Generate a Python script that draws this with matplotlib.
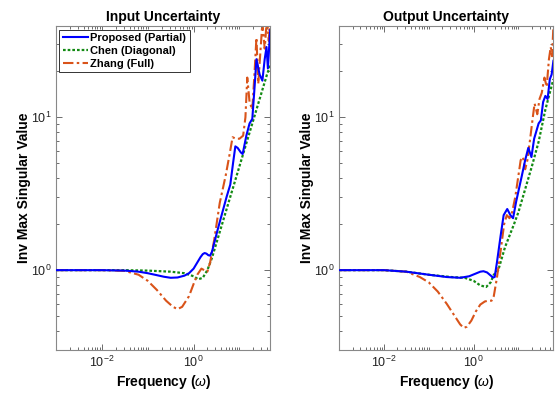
#!/usr/bin/env python3
import numpy as np
import matplotlib
matplotlib.use("Agg")
import matplotlib.pyplot as plt
from matplotlib.ticker import FixedLocator, LogLocator, NullFormatter

# значения (log10 частоты -> log10 значения)
IN_PROP_W = [-3.0, -2.0, -1.5, -1.2, -1.0, -0.8, -0.65, -0.5, -0.35, -0.2, -0.1, 0.0, 0.08, 0.15,
             0.20, 0.24, 0.28, 0.32, 0.36, 0.40, 0.46, 0.52, 0.62, 0.72, 0.80, 0.86, 0.91, 0.96,
             1.03, 1.07, 1.15, 1.22, 1.28, 1.33, 1.37, 1.44, 1.50, 1.55, 1.59, 1.62, 1.67]
IN_PROP_V = [0.0, 0.0, -0.003, -0.01, -0.02, -0.033, -0.043, -0.05, -0.048, -0.036, -0.02, 0.01, 0.05, 0.085,
             0.105, 0.112, 0.108, 0.098, 0.095, 0.12, 0.19, 0.26, 0.37, 0.48, 0.56, 0.70, 0.81, 0.80,
             0.77, 0.76, 0.88, 0.96, 0.99, 1.20, 1.38, 1.28, 1.24, 1.38, 1.46, 1.32, 1.57]

IN_CHEN_W = [-3.0, -1.5, -1.0, -0.5, -0.2, 0.0, 0.1, 0.2, 0.3, 0.4, 0.5, 0.6, 0.7, 0.8, 0.9,
             1.0, 1.1, 1.2, 1.3, 1.4, 1.5, 1.6, 1.67]
IN_CHEN_V = [0.0, 0.0, -0.003, -0.01, -0.02, -0.04, -0.06, -0.05, 0.0, 0.08, 0.18, 0.28, 0.38, 0.48, 0.58,
             0.68, 0.78, 0.88, 0.98, 1.08, 1.18, 1.28, 1.34]

IN_ZHANG_W = [-3.0, -2.0, -1.5, -1.2, -1.0, -0.8, -0.6, -0.45, -0.35, -0.25, -0.1, 0.0, 0.08, 0.17,
              0.23, 0.30, 0.36, 0.45, 0.57, 0.70, 0.78, 0.85, 0.92, 1.0, 1.08, 1.13, 1.17, 1.22,
              1.28, 1.33, 1.37, 1.41, 1.45, 1.50, 1.55, 1.60, 1.64, 1.67]
IN_ZHANG_V = [0.0, 0.0, -0.005, -0.03, -0.07, -0.13, -0.2, -0.24, -0.255, -0.24, -0.17, -0.09, -0.03, 0.01,
              0.0, -0.01, 0.05, 0.2, 0.44, 0.62, 0.75, 0.87, 0.86, 0.86, 0.88, 1.0, 1.26, 1.1,
              1.05, 1.3, 1.52, 1.22, 1.4, 1.62, 1.45, 1.65, 1.5, 1.7]

OUT_PROP_W = [-3.0, -2.0, -1.5, -1.0, -0.6, -0.3, -0.1, 0.05, 0.15, 0.22, 0.3, 0.38, 0.43, 0.47,
              0.52, 0.6, 0.67, 0.75, 0.82, 0.88, 0.95, 1.07, 1.15, 1.22, 1.29, 1.35, 1.40, 1.45,
              1.50, 1.55, 1.60, 1.65, 1.70, 1.74, 1.78]
OUT_PROP_V = [0.0, 0.0, -0.01, -0.03, -0.045, -0.05, -0.04, -0.022, -0.01, -0.007, -0.015, -0.035, -0.048, -0.045,
              0.05, 0.22, 0.36, 0.40, 0.36, 0.34, 0.45, 0.61, 0.72, 0.80, 0.74, 0.86, 0.91, 0.96,
              0.98, 1.10, 1.14, 1.12, 1.25, 1.28, 1.37]

OUT_CHEN_W = [-3.0, -2.0, -1.5, -1.0, -0.5, -0.2, 0.0, 0.15, 0.28, 0.38, 0.45, 0.55, 0.7, 0.9,
              1.0, 1.1, 1.2, 1.3, 1.45, 1.6, 1.78]
OUT_CHEN_V = [0.0, 0.0, -0.01, -0.03, -0.045, -0.05, -0.07, -0.1, -0.11, -0.08, -0.03, 0.0, 0.15, 0.3,
              0.38, 0.48, 0.58, 0.68, 0.84, 1.05, 1.25]

OUT_ZHANG_W = [-3.0, -2.0, -1.5, -1.2, -1.0, -0.8, -0.6, -0.4, -0.3, -0.22, -0.15, -0.05, 0.05, 0.15,
               0.25, 0.32, 0.4, 0.45, 0.52, 0.6, 0.68, 0.74, 0.8, 0.86, 0.93, 1.0, 1.05, 1.1, 1.15,
               1.2, 1.27, 1.32, 1.36, 1.42, 1.47, 1.52, 1.58, 1.63, 1.68, 1.72, 1.75, 1.78]
OUT_ZHANG_V = [0.0, 0.0, -0.01, -0.045, -0.08, -0.14, -0.22, -0.31, -0.355, -0.378, -0.37, -0.33, -0.27, -0.225,
               -0.205, -0.2, -0.2, -0.17, -0.05, 0.12, 0.3, 0.36, 0.34, 0.38, 0.48, 0.62, 0.72, 0.74, 0.66,
               0.72, 0.88, 1.0, 1.09, 1.02, 1.12, 1.16, 1.26, 1.2, 1.38, 1.46, 1.4, 1.6]

TITLES = ["Input Uncertainty", "Output Uncertainty"]
LABELS = ["Proposed (Partial)", "Chen (Diagonal)", "Zhang (Full)"]
XLIMS = [(1e-3, 47), (1e-3, 60)]
YLIM = (0.3, 39.5)

BLUE = "#0000ff"
GREEN = "#138a13"
RED = "#d95319"
FONT = "Liberation Sans"


def draw(ax, data, title, xlim, legend=False):
    (pw, pv), (cw, cv), (zw, zv) = data
    ax.plot(10 ** np.array(pw), 10 ** np.array(pv), color=BLUE, lw=1.5, label=LABELS[0], zorder=3)
    ax.plot(10 ** np.array(cw), 10 ** np.array(cv), color=GREEN, lw=1.6, ls=(0, (1.2, 0.9)),
            label=LABELS[1], zorder=2)
    ax.plot(10 ** np.array(zw), 10 ** np.array(zv), color=RED, lw=1.5, ls=(0, (5, 1.6, 1.2, 1.6)),
            label=LABELS[2], zorder=2)
    ax.set_xscale("log")
    ax.set_yscale("log")
    ax.set_xlim(*xlim)
    ax.set_ylim(*YLIM)

    ax.xaxis.set_major_locator(FixedLocator([1e-2, 1e0]))
    ax.set_xticklabels([r"$10^{-2}$", r"$10^{0}$"])
    ax.xaxis.set_minor_locator(LogLocator(base=10, subs=np.arange(1, 10), numticks=30))
    ax.xaxis.set_minor_formatter(NullFormatter())
    ax.yaxis.set_major_locator(FixedLocator([1e0, 1e1]))
    ax.set_yticklabels([r"$10^{0}$", r"$10^{1}$"])
    ax.yaxis.set_minor_locator(LogLocator(base=10, subs=np.arange(2, 10), numticks=30))
    ax.yaxis.set_minor_formatter(NullFormatter())

    ax.tick_params(which="both", direction="in", top=True, right=True, colors="#555555",
                   labelcolor="#222222", labelsize=9, width=0.6)
    ax.tick_params(which="major", length=4)
    ax.tick_params(which="minor", length=2)
    for s in ax.spines.values():
        s.set_color("#888888")
        s.set_linewidth(0.8)

    ax.set_title(title, fontsize=10, fontweight="bold", family=FONT, pad=4)
    ax.set_xlabel(r"Frequency ($\omega$)", fontsize=10, fontweight="bold", family=FONT, labelpad=2)
    ax.set_ylabel("Inv Max Singular Value", fontsize=10, fontweight="bold", family=FONT, labelpad=0)

    if legend:
        leg = ax.legend(loc="upper left", bbox_to_anchor=(0.005, 0.995), fancybox=False,
                        edgecolor="#333333", framealpha=1, handlelength=2.3, handletextpad=0.2,
                        borderpad=0.3, labelspacing=0.25, borderaxespad=0.2,
                        prop={"family": FONT, "weight": "bold", "size": 8})
        leg.get_frame().set_linewidth(0.7)


def main():
    plt.rcParams["mathtext.fontset"] = "custom"
    plt.rcParams["mathtext.rm"] = FONT
    plt.rcParams["mathtext.it"] = FONT + ":italic"
    plt.rcParams["font.family"] = FONT

    fig = plt.figure(figsize=(5.55, 3.96), dpi=100)
    ax1 = fig.add_axes([0.101, 0.116, 0.386, 0.818])
    ax2 = fig.add_axes([0.611, 0.116, 0.386, 0.818])

    draw(ax1, [(IN_PROP_W, IN_PROP_V), (IN_CHEN_W, IN_CHEN_V), (IN_ZHANG_W, IN_ZHANG_V)],
         TITLES[0], XLIMS[0], legend=True)
    draw(ax2, [(OUT_PROP_W, OUT_PROP_V), (OUT_CHEN_W, OUT_CHEN_V), (OUT_ZHANG_W, OUT_ZHANG_V)],
         TITLES[1], XLIMS[1])

    fig.savefig("out.png", dpi=100)
    plt.close(fig)


if __name__ == "__main__":
    main()
